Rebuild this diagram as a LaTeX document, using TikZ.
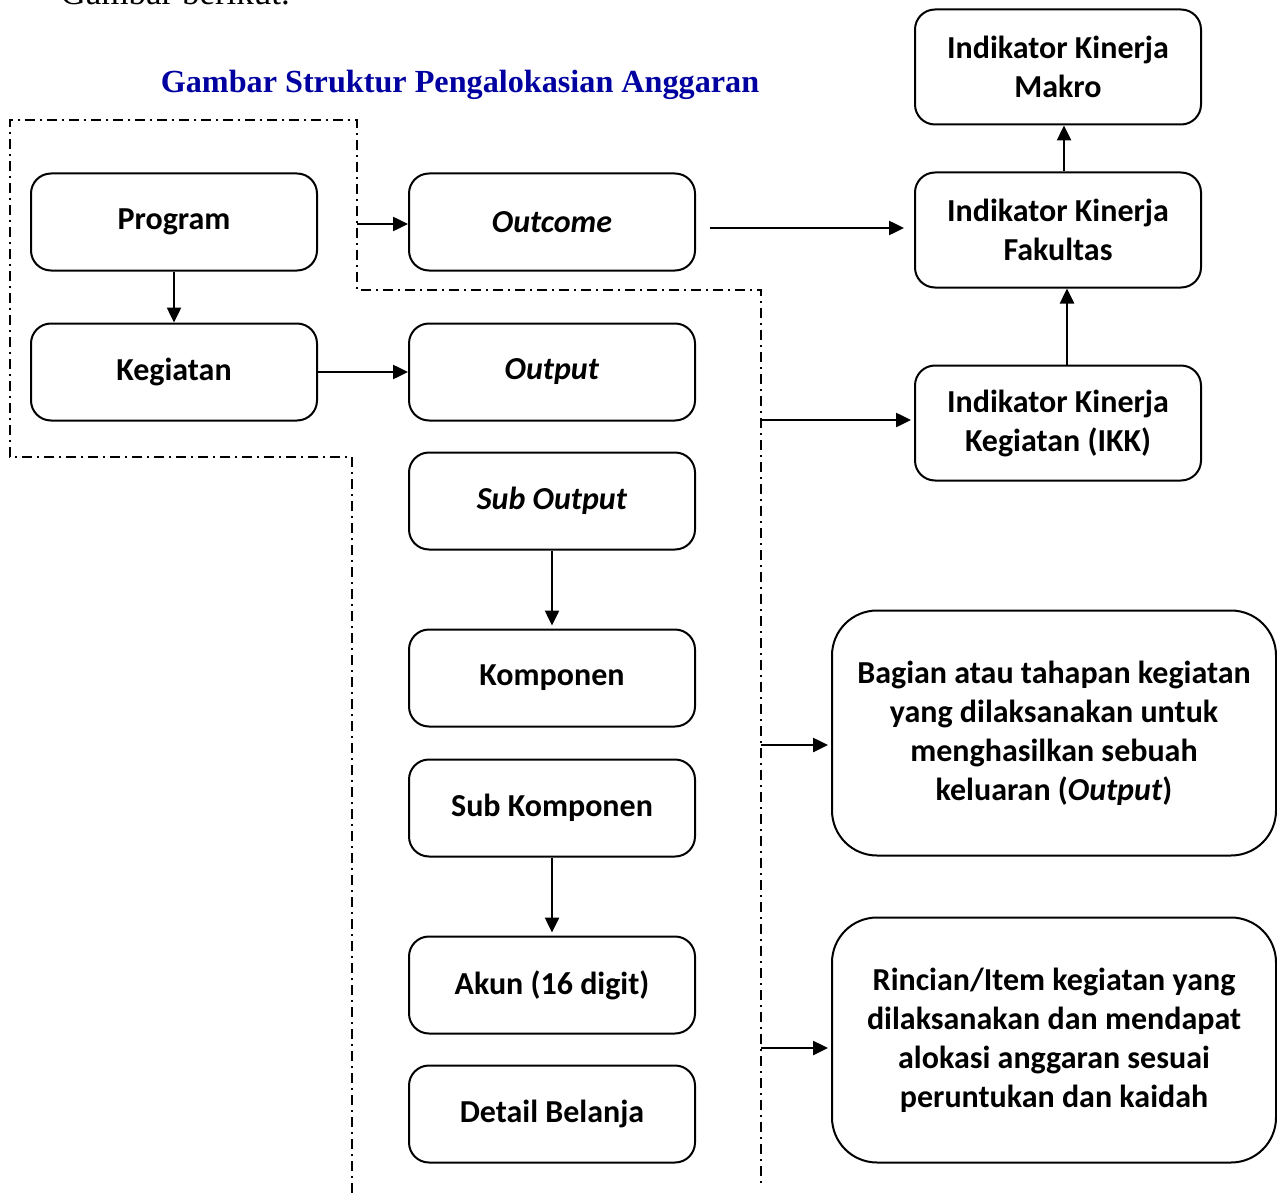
\documentclass[tikz,border=0pt]{standalone}
\usepackage{fontspec}
\setmainfont{Carlito}
\newfontfamily\serifont{Liberation Serif}
\usetikzlibrary{arrows.meta}
\definecolor{judulbiru}{RGB}{0,0,160}

\tikzset{
  blok/.style={draw, line width=2pt, rounded corners=20pt, minimum width=286pt, minimum height=97pt, align=center, inner sep=0pt, font=\fontsize{32}{39}\selectfont\bfseries},
  ikblok/.style={blok, minimum height=115pt},
  ketblok/.style={blok, minimum width=444pt, minimum height=245pt, rounded corners=45pt},
  panah/.style={line width=2.5pt, -{Triangle[length=15pt,width=14pt]}},
  batas/.style={line width=1.5pt, dash pattern=on 10pt off 5pt on 2pt off 5pt},
}

\begin{document}
\begin{tikzpicture}[x=1pt,y=-1pt]
\useasboundingbox (0,0) rectangle (1277,1193);
\node[anchor=base west, font=\serifont\fontsize{35}{40}\selectfont] (kalimat) at (57,5) {Gambar berikut.};
\node[anchor=base, font=\serifont\bfseries\fontsize{32.2}{38}\selectfont, text=judulbiru] (judul) at (460,93) {Gambar Struktur Pengalokasian Anggaran};

% kolom kiri dan tengah
\node[blok] (program) at (174,222) {Program};
\node[blok] (kegiatan) at (174,372) {Kegiatan};
\node[blok] (outcome) at (552,222) {\textit{Outcome}};
\node[blok] (output) at (552,372) {\textit{Output}};
\node[blok] (suboutput) at (552,501) {\textit{Sub Output}};
\node[blok] (komponen) at (552,678) {Komponen};
\node[blok] (subkomponen) at (552,808) {Sub Komponen};
\node[blok] (akun) at (552,985) {Akun (16 digit)};
\node[blok] (detail) at (552,1114) {Detail Belanja};

% indikator kinerja
\node[ikblok] (ikmakro) at (1058,67) {Indikator Kinerja\\Makro};
\node[ikblok] (ikfak) at (1058,230) {Indikator Kinerja\\Fakultas};
\node[ikblok] (ikk) at (1058,423) {Indikator Kinerja\\Kegiatan (IKK)};

% keterangan
\node[ketblok] (bagian) at (1054,733) {Bagian atau tahapan kegiatan\\yang dilaksanakan untuk\\menghasilkan sebuah\\keluaran (\textit{Output})};
\node[ketblok] (rincian) at (1054,1040) {Rincian/Item kegiatan yang\\dilaksanakan dan mendapat\\alokasi anggaran sesuai\\peruntukan dan kaidah};

% garis batas
\draw[batas] (352,1193) -- (352,457) -- (10,457) -- (10,120) -- (357,120) -- (357,290) -- (761,290) -- (761,1185);
\coordinate (tA) at (357,224);
\coordinate (tB) at (761,420);
\coordinate (tC) at (761,745);
\coordinate (tD) at (761,1048);

% panah
\draw[panah] (program) -- (kegiatan);
\draw[panah] (kegiatan) -- (output);
\draw[panah] (tA) -- (tA -| outcome.west);
\draw[panah, shorten <=14pt, shorten >=10pt] ([yshift=-6pt]outcome.east) -- ([yshift=-6pt]outcome.east -| ikfak.west);
\draw[panah, shorten >=3pt] (tB) -- (tB -| ikk.west);
\draw[panah] ([xshift=9pt]ikk.north) -- ([xshift=9pt]ikfak.south);
\draw[panah] ([xshift=6pt]ikfak.north) -- ([xshift=6pt]ikmakro.south);
\draw[panah, shorten >=3pt] (suboutput) -- (komponen);
\draw[panah, shorten >=3pt] (subkomponen) -- (akun);
\draw[panah, shorten >=3pt] (tC) -- (tC -| bagian.west);
\draw[panah, shorten >=3pt] (tD) -- (tD -| rincian.west);
\end{tikzpicture}
\end{document}
